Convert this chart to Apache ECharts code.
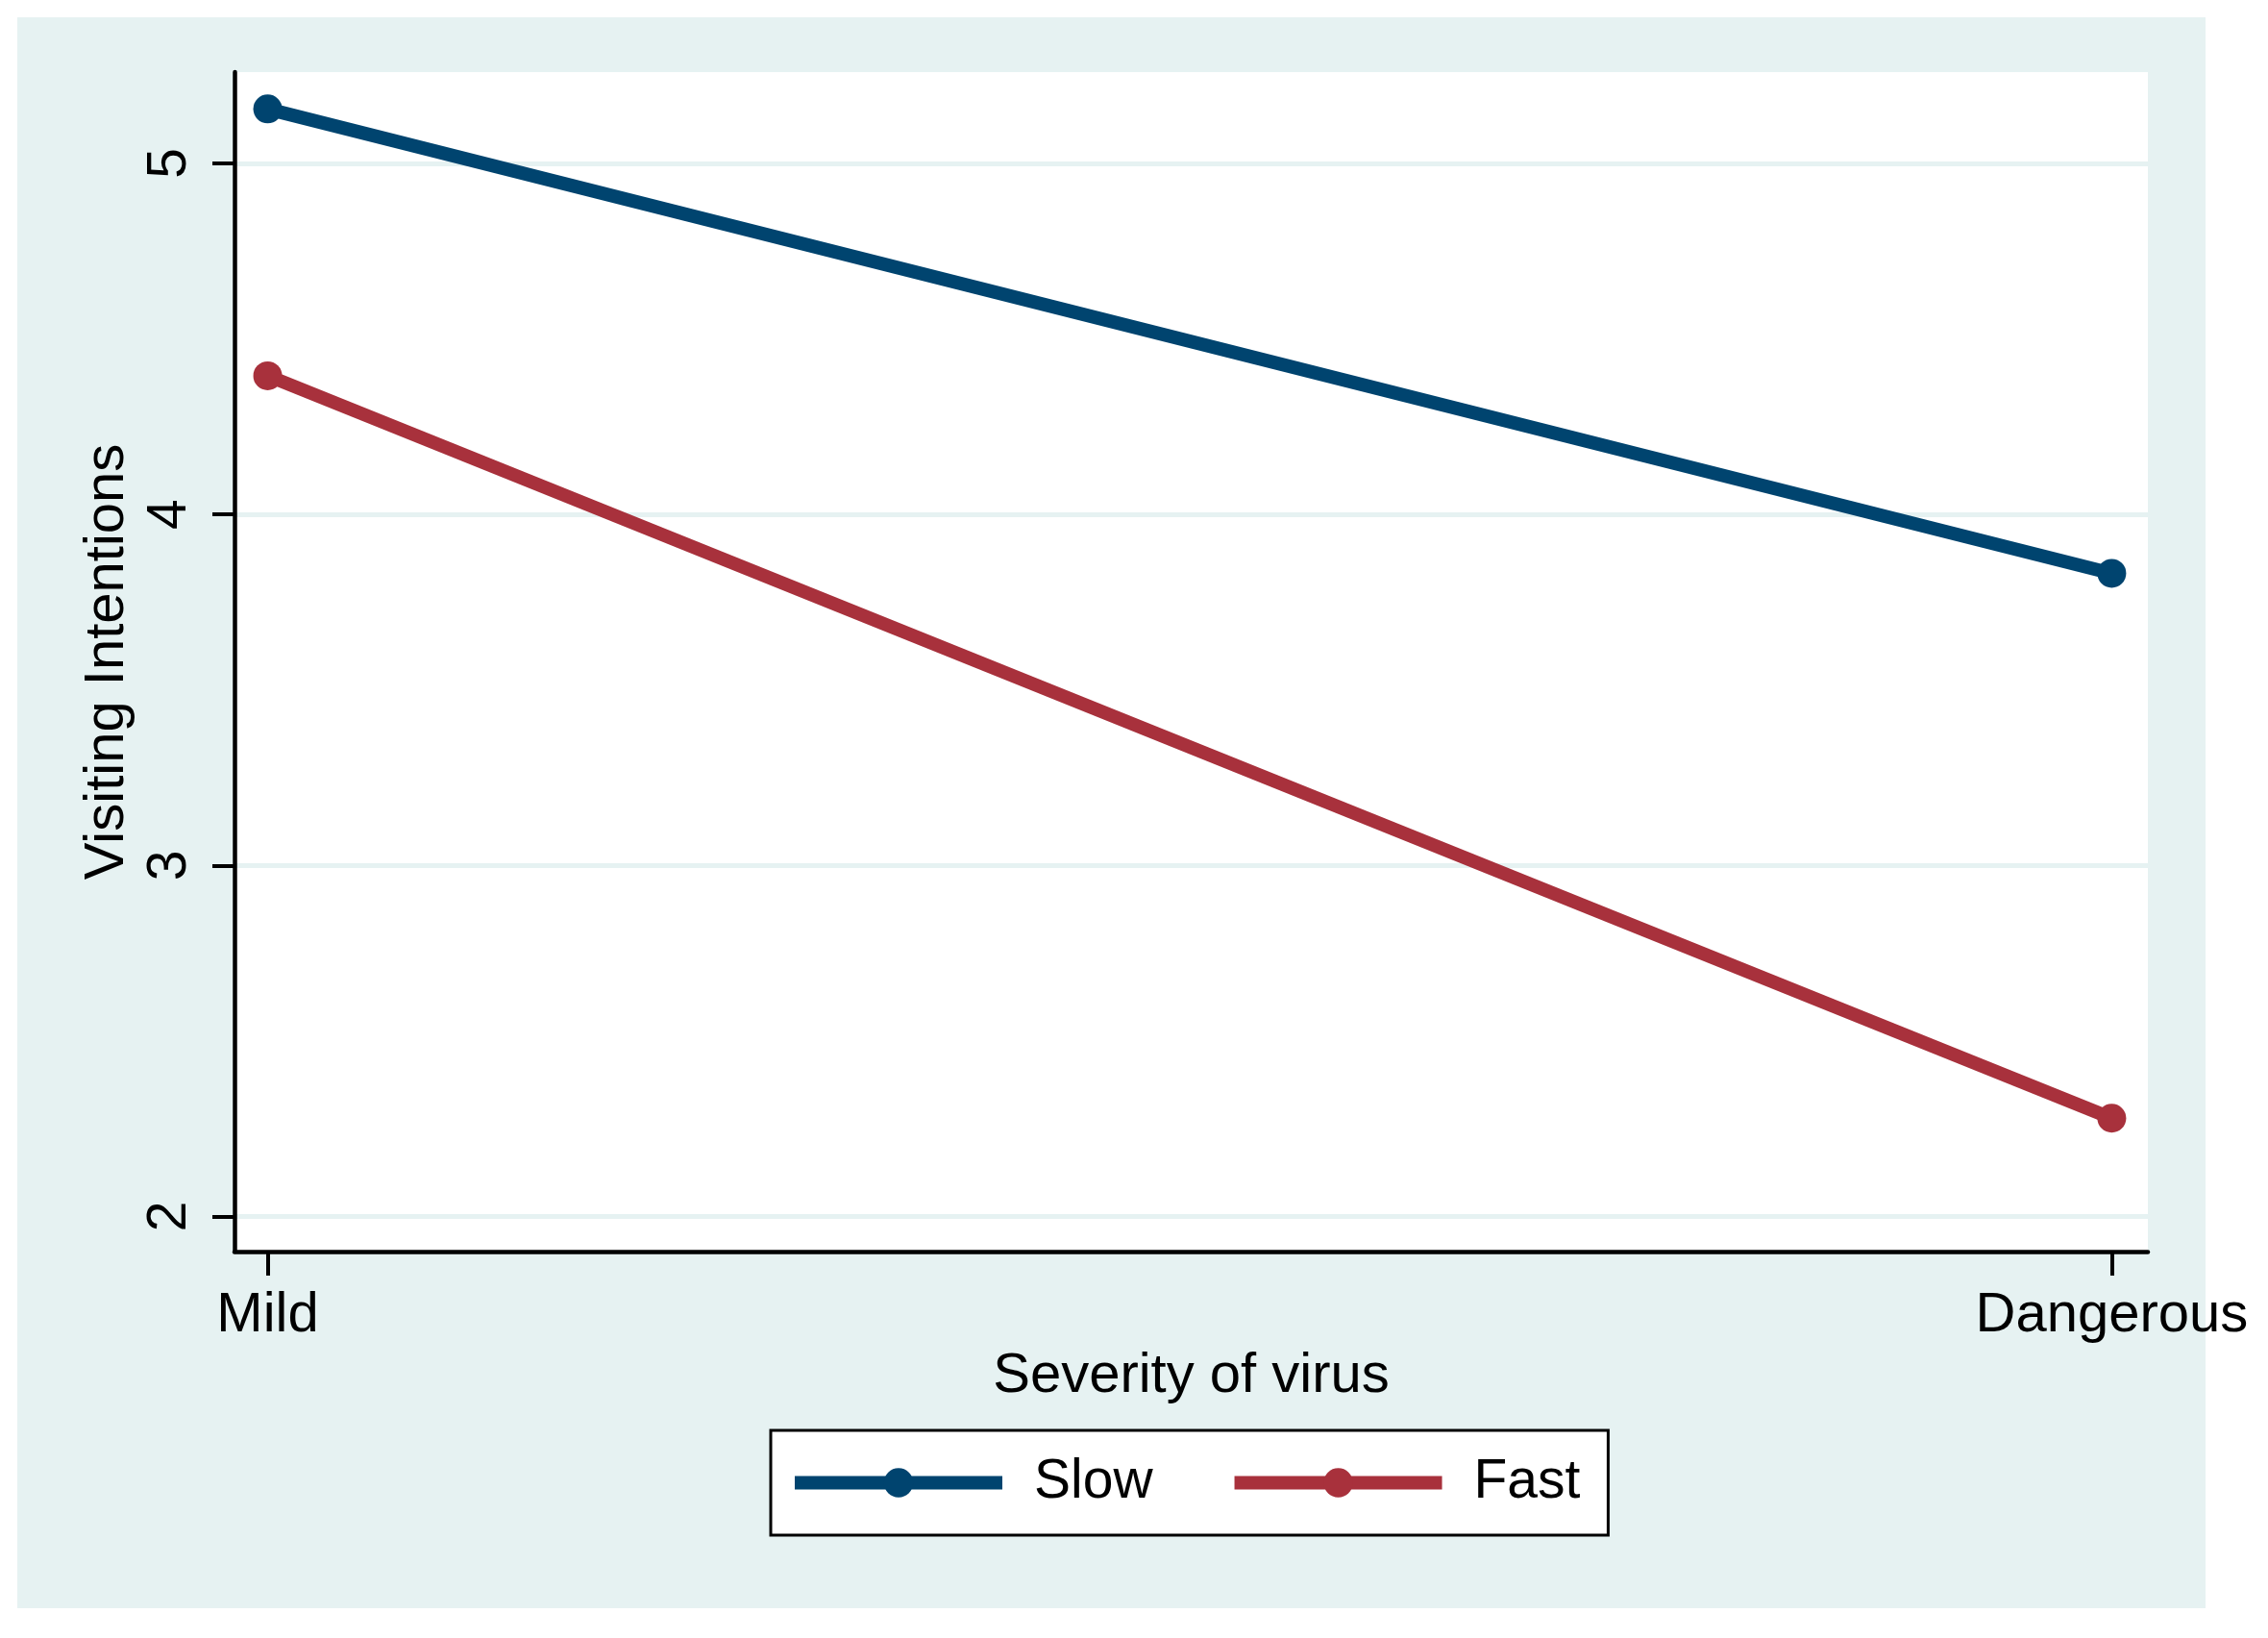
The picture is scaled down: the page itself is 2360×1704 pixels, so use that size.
<!DOCTYPE html>
<html><head><meta charset="utf-8">
<script src="https://cdn.jsdelivr.net/npm/echarts@6/dist/echarts.min.js"></script>
<style>html,body{margin:0;padding:0;background:#fff}#c{width:2360px;height:1704px}</style>
</head><body><div id="c"></div>
<script>
const categories = ['Mild', 'Dangerous'];
const seriesNames = ['Slow', 'Fast'];
const slowValues = [5.155, 3.832];
const fastValues = [4.395, 2.28];
const yTickValues = [2, 3, 4, 5];
const xTickValues = [0, 1];

const FONT = 'Liberation Sans, Arial, Helvetica, sans-serif';
const BG = '#e6f2f2';
const NAVY = '#00446f';
const RED = '#a8313c';

function toPoints(vals) { return vals.map((v, i) => [i, v]); }

const chart = echarts.init(document.getElementById('c'), null, {renderer: 'canvas'});
chart.setOption({
  animation: false,
  backgroundColor: '#ffffff',
  textStyle: {fontFamily: FONT},
  graphic: [{
    type: 'rect', z: -10, silent: true,
    shape: {x: 18, y: 18, width: 2277, height: 1655},
    style: {fill: BG}
  }],
  grid: {left: 244, top: 75, width: 1991, height: 1227, show: true, backgroundColor: '#ffffff', borderWidth: 0, containLabel: false},
  xAxis: {
    type: 'value', min: -0.018, max: 1.0196,
    name: 'Severity of virus', nameLocation: 'middle', nameGap: 91,
    nameTextStyle: {fontSize: 58, color: '#000', fontFamily: FONT},
    axisLine: {show: true, onZero: false, lineStyle: {color: '#000', width: 4.5}},
    axisTick: {show: true, length: 25, lineStyle: {color: '#000', width: 4}, customValues: xTickValues},
    axisLabel: {show: true, margin: 38, fontSize: 58, color: '#000', fontFamily: FONT, customValues: xTickValues,
      formatter: v => categories[Math.round(v)]},
    splitLine: {show: false}
  },
  yAxis: {
    type: 'value', min: 1.9, max: 5.26,
    name: 'Visiting Intentions', nameLocation: 'middle', nameGap: 97, nameRotate: 90,
    nameTextStyle: {fontSize: 58, color: '#000', fontFamily: FONT},
    axisLine: {show: true, onZero: false, lineStyle: {color: '#000', width: 4.5}},
    axisTick: {show: true, length: 23, lineStyle: {color: '#000', width: 4}, customValues: yTickValues},
    axisLabel: {show: true, rotate: 90, margin: 38, fontSize: 57, color: '#000', fontFamily: FONT, customValues: yTickValues},
    splitLine: {show: true, lineStyle: {color: BG, width: 5}}
  },
  legend: {
    data: seriesNames,
    left: 802, top: 1488,
    orient: 'horizontal',
    backgroundColor: '#ffffff', borderColor: '#000', borderWidth: 3,
    padding: [26, 29, 26, 18],
    itemWidth: 216, itemHeight: 38, itemGap: 78,
    lineStyle: {width: 14},
    textStyle: {fontSize: 57, color: '#000', fontFamily: FONT, padding: [0, 0, 0, 28]}
  },
  series: [
    {name: seriesNames[0], type: 'line', data: toPoints(slowValues), symbol: 'circle', symbolSize: 30,
      lineStyle: {color: NAVY, width: 14}, itemStyle: {color: NAVY}},
    {name: seriesNames[1], type: 'line', data: toPoints(fastValues), symbol: 'circle', symbolSize: 30,
      lineStyle: {color: RED, width: 14}, itemStyle: {color: RED}}
  ]
});
</script></body></html>
